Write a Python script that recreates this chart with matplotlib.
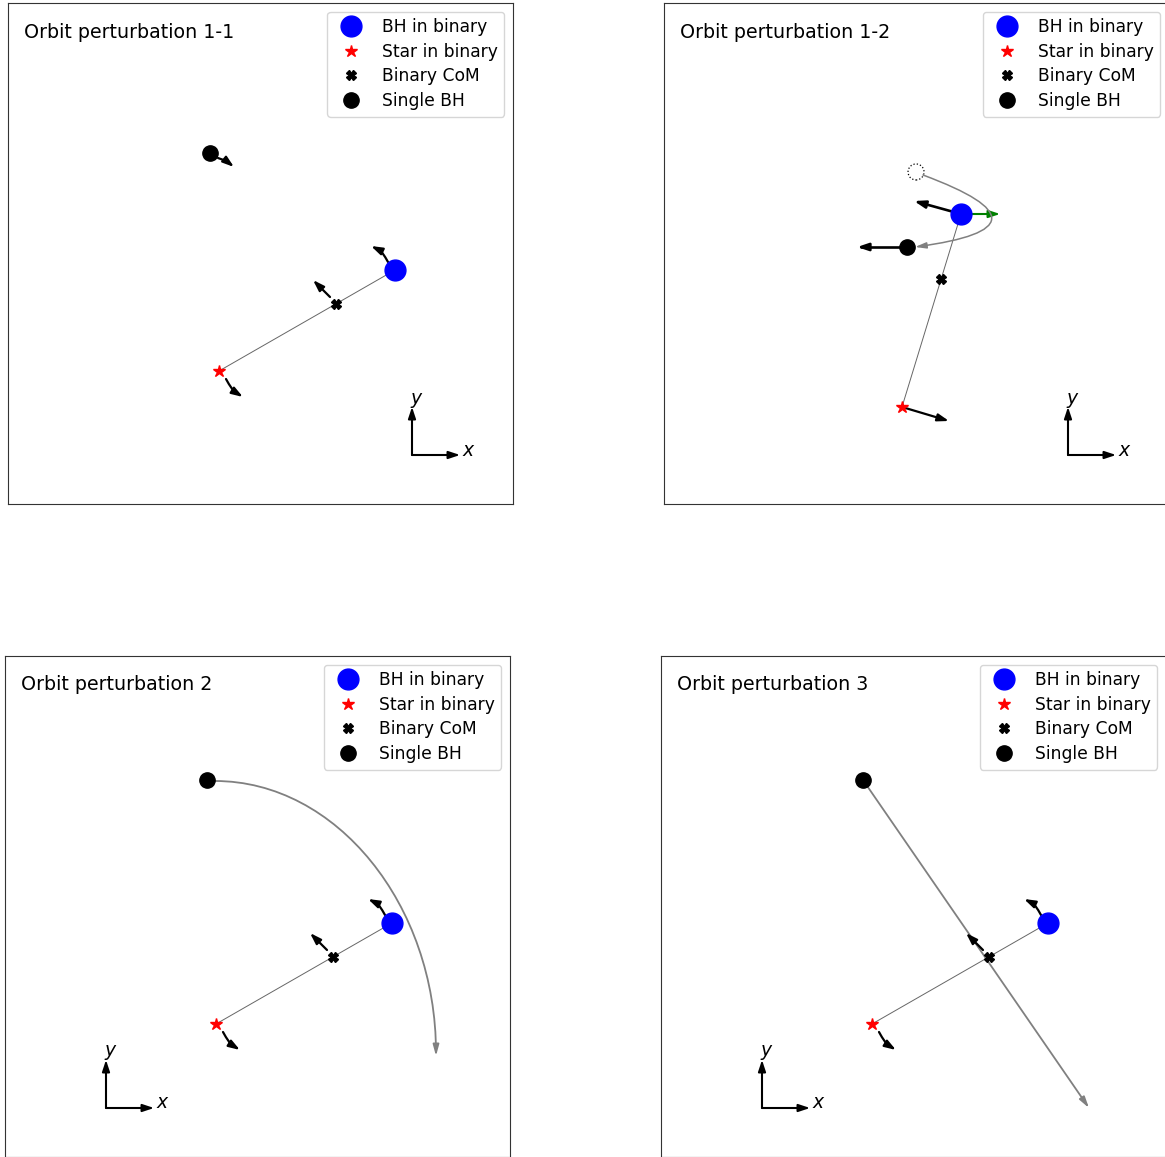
import matplotlib
matplotlib.use('Agg')
import numpy as np
import matplotlib.pyplot as plt
from matplotlib.patches import FancyArrowPatch, Circle
from matplotlib.path import Path
from matplotlib.lines import Line2D

W, H = 1165, 1157
fig = plt.figure(figsize=(W / 100, H / 100), dpi=100)

PW, PH = 505, 501  # panel extent in panel units (x, y)
titles = ["Orbit perturbation 1-1", "Orbit perturbation 1-2",
          "Orbit perturbation 2", "Orbit perturbation 3"]
panel_topleft_px = [(8, 3), (664, 3), (5, 656), (661, 656)]

# body positions (x, y) in panel units
bh_binary = [(387, 234), (297, 290), (387, 234), (387, 234)]
star_binary = [(211, 133), (238, 97), (211, 133), (211, 133)]
binary_com = [(328, 200), (277, 225), (328, 200), (328, 200)]
single_bh = [(202, 351), (243, 257), (202, 377), (202, 377)]

# velocity arrows: (start, end, curvature)
bh_arrow_std = ((380, 242), (363, 258), 0.16)
star_arrow_std = ((218, 125), (235, 107), 0.13)
com_arrow_std = ((322, 207), (305, 224), 0.0)
single_arrow_p1 = ((210, 346), (226, 337), -0.08)

# panel 1-2 specifics
p2_bh_vel = ((297, 290), (250, 303))
p2_bh_kick = ((297, 290), (336, 290))
p2_single_vel = ((243, 257), (193, 257))
p2_star_vel = ((238, 97), (285, 83))
p2_old_single = (252, 332)
p2_path = ((259, 329), (251, 257), -2.0)

# trajectories of panels 2 and 3
p3_path_start = (210, 376)
p3_path_end = (431, 101)
p4_path_start = (202, 377)
p4_path_end = (428, 49)

# xy indicator corner (panel units) and length
xy_corner = [(404, 49), (404, 49), (101, 49), (101, 49)]
xy_len = 48

BLUE, RED, GRAY, GREEN = 'blue', 'red', 'gray', 'green'
HEAD = "-|>,head_length=0.6,head_width=0.2"
GHEAD = "-|>,head_length=0.55,head_width=0.15"


def arrow(ax, p0, p1, rad=0.0, color='black', lw=1.6, style=HEAD, ms=11, z=3,
          tail=10.0):
    p0 = np.asarray(p0, float)
    p1 = np.asarray(p1, float)
    if rad == 0:
        path = Path([p0, p1], [Path.MOVETO, Path.LINETO])
    else:
        d = p1 - p0
        ctrl = (p0 + p1) / 2 + rad * np.array([d[1], -d[0]])
        u = (p1 - ctrl) / np.linalg.norm(p1 - ctrl)
        pm = p1 - tail * u
        path = Path([p0, ctrl, pm, p1],
                    [Path.MOVETO, Path.CURVE3, Path.CURVE3, Path.LINETO])
    a = FancyArrowPatch(path=path, arrowstyle=style, mutation_scale=ms,
                        color=color, lw=lw, zorder=z)
    ax.add_patch(a)


for i in range(4):
    lx, ty = panel_topleft_px[i]
    ax = fig.add_axes([lx / W, (H - ty - PH) / H, PW / W, PH / H])
    ax.set_xlim(0, PW)
    ax.set_ylim(0, PH)
    ax.set_xticks([])
    ax.set_yticks([])
    for s in ax.spines.values():
        s.set_color('#333333')

    bx, by = bh_binary[i]
    sx, sy = star_binary[i]
    cx, cy = binary_com[i]
    gx, gy = single_bh[i]

    ax.plot([sx, bx], [sy, by], color='#666666', lw=0.7, zorder=2)

    if i in (0, 2, 3):
        arrow(ax, *bh_arrow_std[:2], rad=bh_arrow_std[2])
        arrow(ax, *star_arrow_std[:2], rad=star_arrow_std[2])
        arrow(ax, *com_arrow_std[:2], rad=com_arrow_std[2])
    if i == 0:
        arrow(ax, *single_arrow_p1[:2], rad=single_arrow_p1[2])
    if i == 1:
        arrow(ax, *p2_bh_vel, lw=1.9, z=2)
        arrow(ax, *p2_bh_kick, color=GREEN, lw=1.5, z=2)
        arrow(ax, *p2_single_vel, lw=1.9, z=2)
        arrow(ax, *p2_star_vel, lw=1.6, z=2)
        ax.add_patch(Circle(p2_old_single, 8, fill=False, ls=':', lw=0.9,
                            edgecolor='black', zorder=2))
        a = FancyArrowPatch(p2_path[0], p2_path[1], arrowstyle=GHEAD, mutation_scale=12,
                            connectionstyle=f"arc3,rad={p2_path[2]}", color=GRAY,
                            lw=1.1, shrinkA=0, shrinkB=0, zorder=2)
        ax.add_patch(a)
    if i == 2:
        (x0, y0), (x1, y1) = p3_path_start, p3_path_end
        k = 0.55
        verts = [(x0, y0), (x0 + k * (x1 - x0), y0), (x1, y1 + k * (y0 - y1)), (x1, y1)]
        path = Path(verts, [Path.MOVETO, Path.CURVE4, Path.CURVE4, Path.CURVE4])
        a = FancyArrowPatch(path=path, arrowstyle=GHEAD, mutation_scale=12,
                            color=GRAY, lw=1.3, zorder=2)
        ax.add_patch(a)
    if i == 3:
        arrow(ax, p4_path_start, p4_path_end, color=GRAY, lw=1.3, style=GHEAD, ms=12, z=2)

    ax.plot([bx], [by], 'o', color=BLUE, ms=15, zorder=5)
    ax.plot([sx], [sy], '*', color=RED, ms=9, zorder=5)
    ax.plot([cx], [cy], 'X', color='black', ms=7, zorder=5)
    ax.plot([gx], [gy], 'o', color='black', ms=11, zorder=5)

    # xy indicator
    ox, oy = xy_corner[i]
    arrow(ax, (ox, oy), (ox, oy + xy_len), lw=1.5)
    arrow(ax, (ox, oy), (ox + xy_len, oy), lw=1.5)
    ax.text(ox + 5, oy + xy_len + 7, '$y$', fontsize=13.5, ha='center', va='center')
    ax.text(ox + xy_len + 9, oy + 5, '$x$', fontsize=13.5, ha='center', va='center')

    ax.text(16 / PW, 1 - 29 / PH, titles[i], transform=ax.transAxes,
            fontsize=13.7, ha='left', va='center')

    handles = [
        Line2D([], [], ls='none', marker='o', color=BLUE, ms=15),
        Line2D([], [], ls='none', marker='*', color=RED, ms=9),
        Line2D([], [], ls='none', marker='X', color='black', ms=7),
        Line2D([], [], ls='none', marker='o', color='black', ms=11),
    ]
    ax.legend(handles, ["BH in binary", "Star in binary", "Binary CoM", "Single BH"],
              loc='upper right', fontsize=12.3, labelspacing=0.38)

fig.savefig('out.png', dpi=100)
